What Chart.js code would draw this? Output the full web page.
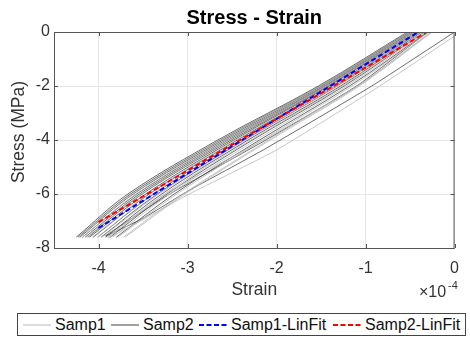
<!DOCTYPE html>
<html>
<head>
<meta charset="utf-8">
<script src="https://cdn.jsdelivr.net/npm/chart.js@4"></script>
<style>
    body { margin: 0; background: #fff; font-family: "Liberation Sans", Arial, sans-serif; }
    #wrap { position: relative; width: 470px; height: 345px; }
    #legend {
        position: absolute; left: 17px; top: 313px; width: 447px; height: 21px;
        border: 1px solid #444; font-size: 16px; color: #111; white-space: nowrap;
    }
    #legend .item { position: absolute; top: 0; height: 21px; display: flex; align-items: center; }
    #legend svg { margin-right: 4px; }
</style>
</head>
<body>
<div id="wrap">
    <canvas id="stressChart" width="470" height="310"></canvas>
    <div id="legend"></div>
</div>
<script>
// strain values are in units of 1e-4
const stressLevels = [0, -2, -4, -6, -7.6];

const samp1Band = [
    [-0.52, -1.51, -2.62, -3.62, -4.22],
    [-0.50, -1.48, -2.58, -3.58, -4.18],
    [-0.47, -1.44, -2.53, -3.52, -4.13],
    [-0.44, -1.39, -2.46, -3.44, -4.07],
    [-0.41, -1.35, -2.41, -3.39, -4.01],
    [-0.38, -1.31, -2.35, -3.32, -3.96],
    [-0.35, -1.26, -2.29, -3.26, -3.90],
    [-0.32, -1.21, -2.23, -3.20, -3.84],
    [-0.29, -1.15, -2.16, -3.12, -3.78],
    [-0.26, -1.09, -2.09, -3.05, -3.72],
    [-0.25, -1.07, -2.07, -3.03, -3.70]
];

const samp2Band = [
    [-0.53, -1.53, -2.66, -3.67, -4.25],
    [-0.52, -1.51, -2.63, -3.64, -4.23],
    [-0.51, -1.49, -2.60, -3.61, -4.21],
    [-0.50, -1.47, -2.57, -3.57, -4.18],
    [-0.48, -1.45, -2.54, -3.54, -4.15],
    [-0.47, -1.43, -2.51, -3.51, -4.12],
    [-0.45, -1.41, -2.48, -3.47, -4.10],
    [-0.43, -1.38, -2.44, -3.43, -4.06],
    [-0.41, -1.35, -2.40, -3.38, -4.01],
    [-0.39, -1.32, -2.36, -3.34, -3.97],
    [-0.37, -1.28, -2.32, -3.29, -3.92],
    [-0.34, -1.24, -2.27, -3.23, -3.87],
    [-0.30, -1.18, -2.19, -3.15, -3.80]
];

const samp1LoopStrain = [0, -0.84, -2.00, -2.98, -3.89, -3.25, -2.15, -1.08, -0.27];
const samp1LoopStress = [-0.15, -2, -4.37, -6.0, -7.63, -6.0, -4.0, -2.0, 0];

const samp2LoopStrain = [0, -0.93, -2.15, -3.0, -3.5, -3.92, -3.2, -2.12, -1.1, -0.3];
const samp2LoopStress = [0, -2, -4.37, -5.9, -6.9, -7.55, -6.0, -4.0, -2.0, 0];

const fit1Strain = [-4.0, -0.405];
const fit1Stress = [-7.26, 0];
const fit2Strain = [-4.0, -0.31];
const fit2Stress = [-7.04, 0];

const xTicks = [-4, -3, -2, -1, 0];
const yTicks = [0, -2, -4, -6, -8];

const SAMP1_COLOR = "#b8b8b8";
const SAMP2_COLOR = "#454545";
const FONT = "'Liberation Sans', Arial, sans-serif";

function toPoints(xs, ys) {
    return xs.map((x, i) => ({ x: x, y: ys[i] }));
}

function grayLine(points, color, tension) {
    return {
        data: points,
        borderColor: color,
        borderWidth: 0.8,
        pointRadius: 0,
        showLine: true,
        fill: false,
        tension: tension,
        order: 2
    };
}

const datasets = [];
datasets.push({
    label: "Samp2-LinFit",
    data: toPoints(fit2Strain, fit2Stress),
    borderColor: "#ff0000",
    borderWidth: 2,
    borderDash: [5, 3],
    pointRadius: 0,
    showLine: true,
    order: 0
});
datasets.push({
    label: "Samp1-LinFit",
    data: toPoints(fit1Strain, fit1Stress),
    borderColor: "#0000ff",
    borderWidth: 2,
    borderDash: [5, 3],
    pointRadius: 0,
    showLine: true,
    order: 1
});
samp1Band.forEach((row) => {
    datasets.push(grayLine(toPoints(row, stressLevels), SAMP1_COLOR, 0.35));
});
datasets.push(grayLine(toPoints(samp1LoopStrain, samp1LoopStress), SAMP1_COLOR, 0.15));
samp2Band.forEach((row) => {
    datasets.push(grayLine(toPoints(row, stressLevels), SAMP2_COLOR, 0.35));
});
datasets.push(grayLine(toPoints(samp2LoopStrain, samp2LoopStress), SAMP2_COLOR, 0.15));

// title, y label, box, inward ticks, exponent label
const axesDecor = {
    id: "axesDecor",
    afterDraw(chart) {
        const { ctx, chartArea: a, scales } = chart;
        ctx.save();
        ctx.strokeStyle = "#555";
        ctx.lineWidth = 1;
        ctx.strokeRect(a.left + 0.5, a.top + 0.5, a.right - a.left - 1, a.bottom - a.top);

        ctx.beginPath();
        xTicks.forEach((t) => {
            const x = Math.round(scales.x.getPixelForValue(t)) + 0.5;
            ctx.moveTo(x, a.bottom);
            ctx.lineTo(x, a.bottom - 4);
            ctx.moveTo(x, a.top);
            ctx.lineTo(x, a.top + 4);
        });
        yTicks.forEach((t) => {
            const y = Math.round(scales.y.getPixelForValue(t)) + 0.5;
            ctx.moveTo(a.left, y);
            ctx.lineTo(a.left + 4, y);
            ctx.moveTo(a.right, y);
            ctx.lineTo(a.right - 4, y);
        });
        ctx.stroke();

        ctx.fillStyle = "#000";
        ctx.font = "bold 20px " + FONT;
        ctx.textAlign = "center";
        ctx.textBaseline = "alphabetic";
        ctx.fillText("Stress - Strain", (a.left + a.right) / 2, 24);

        ctx.fillStyle = "#333";
        ctx.font = "17.5px " + FONT;
        ctx.textBaseline = "middle";
        ctx.save();
        ctx.translate(19, 132);
        ctx.rotate(-Math.PI / 2);
        ctx.fillText("Stress (MPa)", 0, 0);
        ctx.restore();

        ctx.textAlign = "left";
        ctx.textBaseline = "alphabetic";
        ctx.font = "16px " + FONT;
        ctx.fillText("\u00d710", 419, 297);
        ctx.font = "11px " + FONT;
        ctx.fillText("-4", 448, 289);
        ctx.restore();
    }
};

new Chart(document.getElementById("stressChart"), {
    type: "scatter",
    data: { datasets: datasets },
    options: {
        responsive: false,
        animation: false,
        layout: { padding: { top: 32, right: 5, left: 0, bottom: 0 } },
        plugins: {
            legend: { display: false },
            tooltip: { enabled: false },
            title: { display: false }
        },
        scales: {
            x: {
                type: "linear",
                min: -4.5,
                max: 0,
                afterFit: (scale) => { scale.height = 62; },
                afterBuildTicks: (scale) => {
                    scale.ticks = xTicks.map((v) => ({ value: v }));
                },
                grid: { color: "#e6e6e6", drawTicks: false },
                border: { display: false },
                ticks: {
                    padding: 11,
                    color: "#333",
                    font: { size: 16, family: FONT }
                },
                title: {
                    display: true,
                    text: "Strain",
                    color: "#333",
                    padding: { top: 0, bottom: 9 },
                    font: { size: 17.5, family: FONT }
                }
            },
            y: {
                type: "linear",
                min: -8,
                max: 0,
                afterFit: (scale) => { scale.width = 54; },
                afterBuildTicks: (scale) => {
                    scale.ticks = yTicks.map((v) => ({ value: v }));
                },
                grid: { color: "#e6e6e6", drawTicks: false },
                border: { display: false },
                ticks: {
                    padding: 4,
                    color: "#333",
                    font: { size: 16, family: FONT }
                },
                title: { display: false }
            }
        }
    },
    plugins: [axesDecor]
});

// legend entries
const legendItems = [
    { label: "Samp1", color: SAMP1_COLOR, dash: "", width: 1, left: 5 },
    { label: "Samp2", color: SAMP2_COLOR, dash: "", width: 1, left: 93 },
    { label: "Samp1-LinFit", color: "#0000ff", dash: "5,2.5", width: 2, left: 181 },
    { label: "Samp2-LinFit", color: "#ff0000", dash: "5,2.5", width: 2, left: 315 }
];

let legendHtml = "";
legendItems.forEach((item) => {
    legendHtml += `
        <div class="item" style="left:${item.left}px">
            <svg width="28" height="10">
                <line x1="0" y1="5" x2="28" y2="5" stroke="${item.color}"
                    stroke-width="${item.width}" stroke-dasharray="${item.dash}" />
            </svg>
            <span>${item.label}</span>
        </div>
    `;
});
document.getElementById("legend").innerHTML = legendHtml;
</script>
</body>
</html>
